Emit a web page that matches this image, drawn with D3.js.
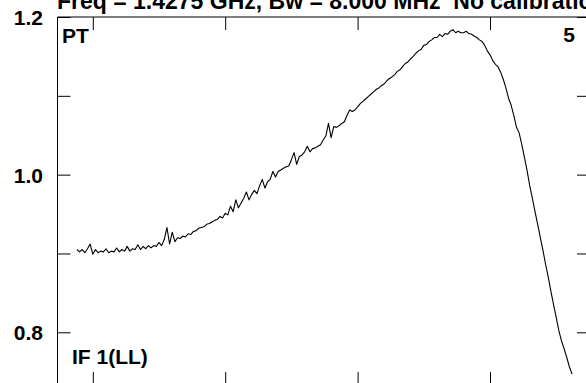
<!DOCTYPE html>
<html>
<head>
<meta charset="utf-8">
<script src="https://cdn.jsdelivr.net/npm/d3@7"></script>
<style>
  html, body { margin: 0; padding: 0; background: #fff; }
  svg { display: block; }
  text { font-family: "Liberation Sans", Arial, sans-serif; font-weight: bold; fill: #000; }
</style>
</head>
<body>
<script>
// ---- data ----
const titleText = "Freq = 1.4275 GHz, Bw = 8.000 MHz\u00a0\u00a0No calibration";
const cornerLabels = ["PT", "5", "IF 1(LL)"];
const channelStart = 44;
const amplitude = [
  0.905, 0.902, 0.905, 0.901, 0.906, 0.912, 0.899, 0.905, 0.901, 0.903,
  0.902, 0.906, 0.901, 0.903, 0.902, 0.907, 0.902, 0.905, 0.903, 0.909,
  0.903, 0.906, 0.905, 0.911, 0.905, 0.909, 0.906, 0.910, 0.907, 0.910,
  0.909, 0.914, 0.910, 0.918, 0.933, 0.912, 0.927, 0.915, 0.920, 0.919,
  0.922, 0.921, 0.925, 0.924, 0.928, 0.929, 0.932, 0.933, 0.934, 0.937,
  0.938, 0.940, 0.942, 0.943, 0.947, 0.945, 0.951, 0.949, 0.960, 0.953,
  0.968, 0.958, 0.964, 0.970, 0.978, 0.968, 0.975, 0.980, 0.976, 0.986,
  0.994, 0.983, 0.991, 0.994, 1.004, 0.997, 1.004, 1.006, 1.008, 1.010,
  1.011, 1.019, 1.028, 1.013, 1.023, 1.025, 1.029, 1.036, 1.029, 1.033,
  1.034, 1.036, 1.038, 1.044, 1.049, 1.065, 1.047, 1.061, 1.060, 1.062,
  1.065, 1.067, 1.075, 1.082, 1.080, 1.082, 1.086, 1.090, 1.093, 1.096,
  1.099, 1.102, 1.105, 1.108, 1.110, 1.113, 1.115, 1.119, 1.122, 1.124,
  1.127, 1.131, 1.133, 1.137, 1.141, 1.143, 1.147, 1.150, 1.154, 1.157,
  1.159, 1.164, 1.165, 1.169, 1.171, 1.174, 1.174, 1.178, 1.175, 1.179,
  1.178, 1.182, 1.184, 1.180, 1.182, 1.180, 1.180, 1.182, 1.179, 1.178,
  1.176, 1.174, 1.171, 1.169, 1.164, 1.157, 1.152, 1.145, 1.140, 1.137,
  1.130, 1.121, 1.110, 1.097, 1.088, 1.075, 1.060, 1.053, 1.038, 1.022,
  1.005, 0.986, 0.970, 0.953, 0.937, 0.920, 0.904, 0.886, 0.870, 0.852,
  0.835, 0.819, 0.802, 0.789, 0.779, 0.768, 0.756, 0.747
];
const xTicks = [50, 100, 150, 200];
const yTicks = [0.8, 0.9, 1.0, 1.1, 1.2];
const yTickLabels = ["0.8", "", "1.0", "", "1.2"];

// ---- layout ----
const W = 586, H = 383;
const mLeft = 57.5, mRight = 590, mTop = 17, mBottom = 385;

const svg = d3.select("body").append("svg")
  .attr("width", W).attr("height", H)
  .style("background", "#fff");

const x = d3.scaleLinear().domain([36.67, 237.76]).range([mLeft, mRight]);
const y = d3.scaleLinear().domain([0.8, 1.2]).range([332.3, mTop]);

const pts = amplitude.map((v, i) => ({ c: channelStart + i, v }));

// frame
svg.append("line").attr("x1", mLeft).attr("x2", mRight).attr("y1", mTop).attr("y2", mTop)
  .attr("stroke", "#000").attr("stroke-width", 1);
svg.append("line").attr("x1", mLeft).attr("x2", mLeft).attr("y1", mTop).attr("y2", mBottom)
  .attr("stroke", "#000").attr("stroke-width", 1);

// axes (ticks only, inward)
const tickLen = 13;
const axL = d3.axisRight(y).tickValues(yTicks).tickSize(tickLen).tickFormat("");
const axR = d3.axisLeft(y).tickValues(yTicks).tickSize(tickLen).tickFormat("");
const axT = d3.axisBottom(x).tickValues(xTicks).tickSize(tickLen).tickFormat("");
const axB = d3.axisTop(x).tickValues(xTicks).tickSize(tickLen).tickFormat("");
[[axL, `translate(${mLeft},0)`], [axR, `translate(${mRight},0)`],
 [axT, `translate(0,${mTop})`], [axB, `translate(0,${mBottom})`]].forEach(([ax, tr]) => {
  const g = svg.append("g").attr("transform", tr).call(ax);
  g.select(".domain").remove();
  g.selectAll(".tick line").attr("stroke", "#000").attr("stroke-width", 1);
});

// y labels
svg.append("g").selectAll("text").data(yTicks.map((t, i) => [t, yTickLabels[i]]).filter(d => d[1]))
  .join("text")
  .attr("x", 43).attr("y", d => y(d[0]) + 8)
  .attr("text-anchor", "end")
  .style("font-size", "21px")
  .text(d => d[1]);

// curve
svg.append("path").datum(pts)
  .attr("fill", "none").attr("stroke", "#000").attr("stroke-width", 1.1)
  .attr("stroke-linejoin", "round")
  .attr("d", d3.line().x(d => x(d.c)).y(d => y(d.v)));

// texts
svg.append("text").attr("x", 57).attr("y", 9).style("font-size", "23px").text(titleText);
svg.append("text").attr("x", 62).attr("y", 43).style("font-size", "21px").text(cornerLabels[0]);
svg.append("text").attr("x", 575).attr("y", 42).attr("text-anchor", "end").style("font-size", "21px").text(cornerLabels[1]);
svg.append("text").attr("x", 72).attr("y", 364).style("font-size", "21px").text(cornerLabels[2]);
</script>
</body>
</html>
